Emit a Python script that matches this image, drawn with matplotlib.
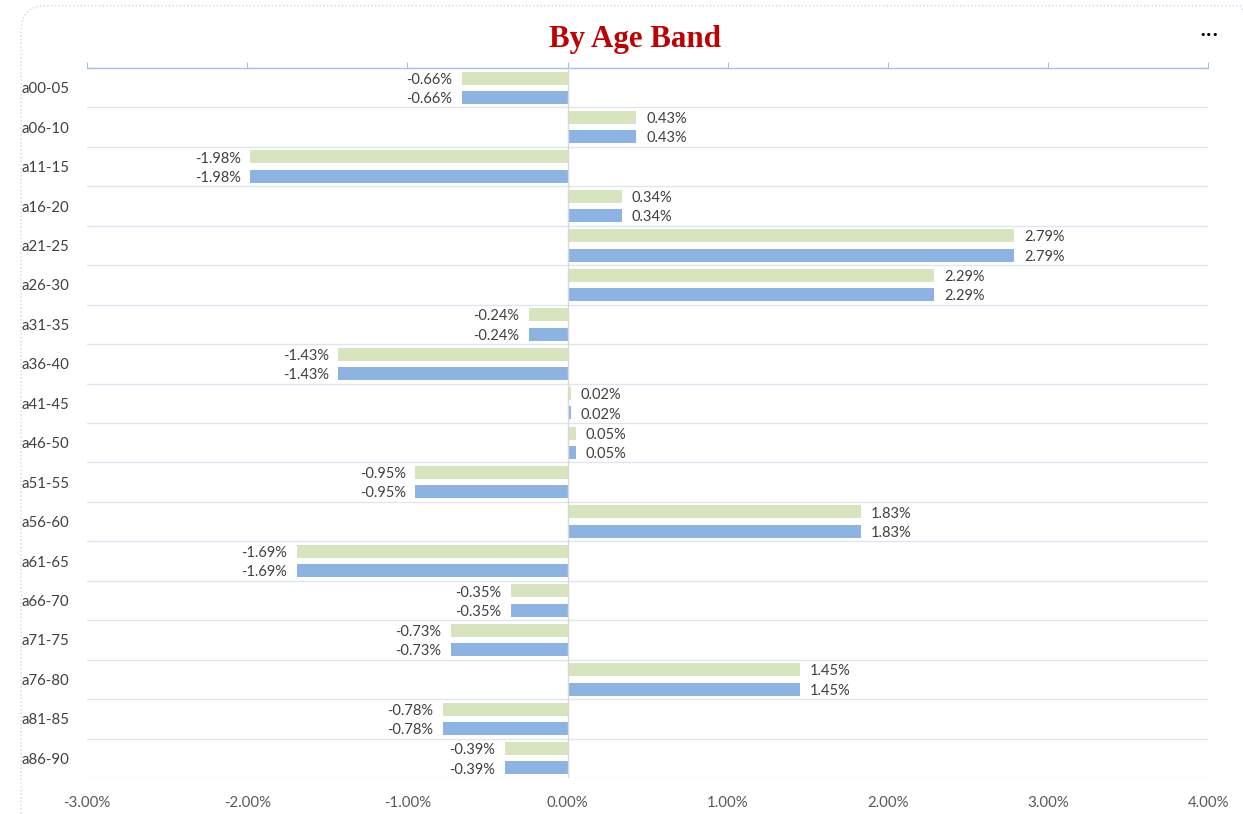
import matplotlib
matplotlib.use("Agg")
import matplotlib.pyplot as plt
from matplotlib.patches import FancyBboxPatch
import numpy as np

bands = ["a00-05", "a06-10", "a11-15", "a16-20", "a21-25", "a26-30", "a31-35",
         "a36-40", "a41-45", "a46-50", "a51-55", "a56-60", "a61-65", "a66-70",
         "a71-75", "a76-80", "a81-85", "a86-90"]
series_a = [-0.66, 0.43, -1.98, 0.34, 2.79, 2.29, -0.24, -1.43, 0.02, 0.05,
            -0.95, 1.83, -1.69, -0.35, -0.73, 1.45, -0.78, -0.39]
series_b = [-0.66, 0.43, -1.98, 0.34, 2.79, 2.29, -0.24, -1.43, 0.02, 0.05,
            -0.95, 1.83, -1.69, -0.35, -0.73, 1.45, -0.78, -0.39]
xticks = [-3, -2, -1, 0, 1, 2, 3, 4]

green = "#D7E4BD"
blue = "#8DB3E2"
txt = "#404040"
grid = "#DCE6F2"
font = "Lato"

fig = plt.figure(figsize=(12.43, 8.14), dpi=100)
card = FancyBboxPatch((0.017, -0.05), 1.0, 1.043, boxstyle="round,pad=0,rounding_size=0.02",
                      transform=fig.transFigure, facecolor="none", edgecolor="#C9D9EE",
                      linestyle=":", linewidth=1, mutation_aspect=1.5, zorder=-1)
fig.patches.append(card)

ax = fig.add_axes([0.07, 0.0442, 0.902, 0.8723])
ax.set_facecolor("none")

y = np.arange(len(bands))
h = 0.33
off = 0.245
ax.barh(y - off, series_a, height=h, color=green, zorder=3)
ax.barh(y + off, series_b, height=h, color=blue, zorder=3)

# data labels sit just past the end of each bar
for yy, va in zip(y - off, series_a):
    ax.annotate(f"{va:.2f}%", (va, yy), xytext=(7 if va >= 0 else -7, -1.2),
                textcoords="offset points", ha="left" if va >= 0 else "right",
                va="center", fontsize=10.5, color=txt, family=font)
for yy, vb in zip(y + off, series_b):
    ax.annotate(f"{vb:.2f}%", (vb, yy), xytext=(7 if vb >= 0 else -7, -1.2),
                textcoords="offset points", ha="left" if vb >= 0 else "right",
                va="center", fontsize=10.5, color=txt, family=font)

ax.set_xlim(-3, 4)
ax.set_ylim(len(bands) - 0.5, -0.5)

for b in np.arange(len(bands)) + 0.5:
    ax.axhline(b, color=grid, lw=1, zorder=1)
ax.axvline(0, color="#D9D9D9", lw=1, zorder=4)

for s in ["left", "right", "bottom"]:
    ax.spines[s].set_visible(False)
ax.spines["top"].set_color("#A6C0E2")
ax.spines["top"].set_linewidth(1)

ax.set_xticks(xticks)
ax.set_xticklabels([f"{t:.2f}%" for t in xticks], family=font, fontsize=10.8, color="#595959")
ax.tick_params(axis="x", top=True, bottom=False, labeltop=False, labelbottom=True,
               direction="out", length=4, color="#A6C0E2", pad=9)

ax.set_yticks(y)
ax.set_yticklabels(bands, family=font, fontsize=10.8, color=txt, ha="left")
ax.tick_params(axis="y", length=0, pad=47)

fig.text(0.511, 0.952, "By Age Band", ha="center", va="center", fontsize=22.3,
         fontweight="bold", color="#C00000", family="Liberation Serif")
fig.text(0.973, 0.957, "•••", ha="center", va="center", fontsize=8, color="black")

fig.savefig("out.png", dpi=100)
